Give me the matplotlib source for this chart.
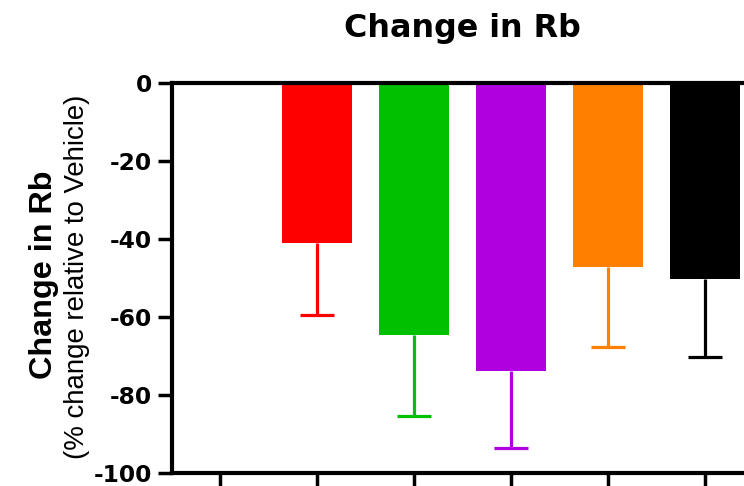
import matplotlib.pyplot as plt
import numpy as np

plt.rcParams["axes.unicode_minus"] = False

# groups: first slot is Vehicle (reference, no bar)
groups = ["Vehicle", "A", "B", "C", "D", "E"]
means = [0, -41.0, -64.5, -73.8, -47.2, -50.3]
errors = [0, 18.6, 20.8, 19.8, 20.5, 20.0]
colors = ["white", "#ff0000", "#00c000", "#b000e0", "#ff8000", "#000000"]

W, H = 744, 486
fig = plt.figure(figsize=(W / 100, H / 100), dpi=100)
ax = fig.add_axes([171.5 / W, 13 / H, 582 / W, 390 / H])

x = np.arange(len(groups))
for xi, m, e, c in zip(x, means, errors, colors):
    if m == 0:
        continue
    ax.bar(xi, m, width=0.72, color=c, zorder=2)
    _, caps, _ = ax.errorbar(xi, m, yerr=[[e], [0]], fmt="none", ecolor=c,
                             elinewidth=2.3, capsize=12, capthick=2.3,
                             zorder=3)
    # keep only the lower cap
    for cap in caps:
        if np.allclose(cap.get_ydata(), m):
            cap.set_visible(False)

ax.set_xlim(-0.5, 5.5)
ax.set_ylim(-100, 0)
ax.set_yticks(np.arange(-100, 1, 20))
ax.set_xticks(x)
ax.set_xticklabels([])
ax.tick_params(axis="both", direction="out", length=10, width=2.5, pad=4)
for lbl in ax.get_yticklabels():
    lbl.set_fontfamily("DejaVu Sans")
    lbl.set_fontweight("bold")
    lbl.set_fontsize(16.8)

for side in ["left", "top", "bottom"]:
    ax.spines[side].set_linewidth(3)
ax.spines["right"].set_visible(False)
ax.spines["top"].set_zorder(4)

fig.text(462.5 / W, 1 - 37 / H, "Change in Rb", family="DejaVu Sans",
         fontsize=22.9, fontweight="bold", ha="center", va="baseline")

fig.text(52 / W, 1 - 275 / H, "Change in Rb", rotation=90,
         rotation_mode="anchor", family="Liberation Sans",
         fontsize=23.3, fontweight="bold", ha="center", va="baseline")
fig.text(84 / W, 1 - 276.5 / H, "(% change relative to Vehicle)",
         rotation=90, rotation_mode="anchor", family="Liberation Sans",
         fontsize=19.9, ha="center", va="baseline")

fig.savefig("out.png", dpi=100)
